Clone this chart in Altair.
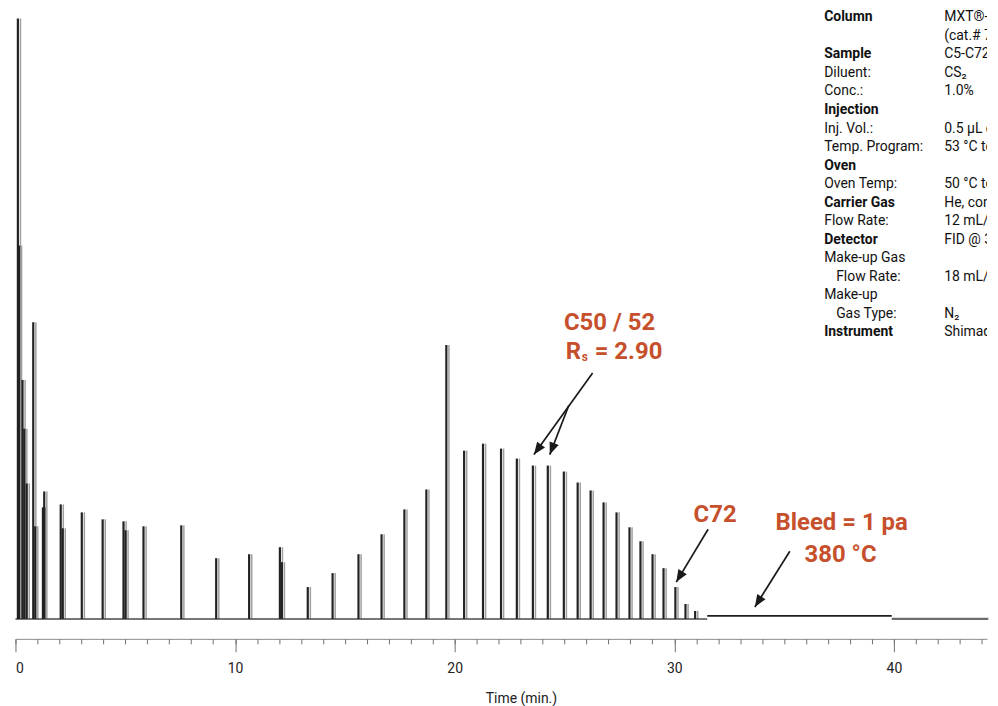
import math
import altair as alt
import pandas as pd

# ---------------- data ----------------
# retention time (min) and peak height (detector units above baseline)
peak_time = [0.11, 0.16, 0.32, 0.40, 0.51, 0.81, 0.90, 1.25, 1.31, 2.06,
             2.15, 3.02, 3.97, 4.92, 5.01, 5.83, 7.55, 9.14, 10.64, 12.04,
             12.13, 13.31, 14.44, 15.62, 16.67, 17.71, 18.71, 19.62, 20.43, 21.29,
             22.11, 22.83, 23.56, 24.24, 24.97, 25.60, 26.19, 26.78, 27.37, 27.96,
             28.46, 29.01, 29.51, 30.05, 30.51, 30.95]
peak_height = [603, 375, 240, 191, 136, 298, 93, 112, 128, 115,
               91, 107, 100, 98, 89, 93, 94, 61, 65, 72,
               57, 32, 46, 65, 85, 110, 130, 275, 169, 176,
               171, 161, 154, 154, 148, 137, 129, 117, 107, 92,
               78, 65, 51, 32, 15, 8]

# baseline segments (run, column bleed at 380 °C, after the run)
base_start = [0.0, 31.5, 39.9]
base_end = [31.5, 39.9, 44.3]
base_level = [0.0, 3.0, 0.0]
base_kind = ["run", "bleed", "post"]

x_ticks_major = [0, 10, 20, 30, 40]
x_ticks_minor = list(range(0, 45))

# annotations
ann_text = ["C50 / 52", "C72", "Bleed = 1 pa", "380 °C"]
ann_time = [27.05, 31.86, 37.62, 37.57]
ann_level = [297, 104, 96, 64]

rs_time = [25.06]
rs_level = [268]

arrow_t0 = [26.28, 25.19, 31.54, 35.26]
arrow_v0 = [247, 214, 90, 68]
arrow_t1 = [23.61, 24.33, 30.09, 33.67]
arrow_v1 = [165, 165, 37, 12]

# conditions panel
info_label = ["Column", "", "Sample", "Diluent:", "Conc.:", "Injection", "Inj. Vol.:",
              "Temp. Program:", "Oven", "Oven Temp:", "Carrier Gas", "Flow Rate:",
              "Detector", "Make-up Gas", "Flow  Rate:", "Make-up",
              "Gas Type:", "Instrument"]
info_bold = [True, False, True, False, False, True, False, False, True, False,
             True, False, True, False, False, False, False, True]
info_indent = [False, False, False, False, False, False, False, False, False, False,
               False, False, False, False, True, False, True, False]
info_value = ["MXT®-1HT Sim Dist", "(cat.# 70112)", "C5-C72 Polywax standard", "CS₂", "1.0%", "",
              "0.5 µL cool on-column", "53 °C to 383 °C", "", "50 °C to 380 °C",
              "He, constant flow", "12 mL/min", "FID @ 390 °C", "", "18 mL/min", "",
              "N₂", "Shimadzu GC-2010"]

# ---------------- layout ----------------
W, H = 975.5, 632
X_DOM = [0, 44.24]
Y_DOM = [-20, 612]
xs = alt.Scale(domain=X_DOM, nice=False, zero=False)
ys = alt.Scale(domain=Y_DOM, nice=False, zero=False)
px_x = W / (X_DOM[1] - X_DOM[0])
px_y = H / (Y_DOM[1] - Y_DOM[0])

ORANGE = "#c6502b"
FONT = "Roboto"

peaks = pd.DataFrame({"time": peak_time, "signal": peak_height,
                      "base": [0.0] * len(peak_time)})
base = pd.DataFrame({"start": base_start, "end": base_end,
                     "level": base_level, "kind": base_kind})

angles = []
for a, b, c, d in zip(arrow_t0, arrow_v0, arrow_t1, arrow_v1):
    dx = (c - a) * px_x
    dy = -(d - b) * px_y
    angles.append(math.degrees(math.atan2(dx, -dy)) % 360)
arrows = pd.DataFrame({"t0": arrow_t0, "v0": arrow_v0, "t1": arrow_t1,
                       "v1": arrow_v1, "angle": angles})
ann = pd.DataFrame({"time": ann_time, "level": ann_level, "label": ann_text})
rs = pd.DataFrame({"time": rs_time, "level": rs_level})

# panel rows: one row per line, positioned on the chart's own y scale
PANEL_TOP = 604.0   # signal level of the first line
LINE_STEP = 18.6 / px_y
panel = pd.DataFrame({
    "label": info_label,
    "bold": info_bold,
    "indent": info_indent,
    "value": info_value,
    "lv": [PANEL_TOP - i * LINE_STEP for i in range(len(info_label))],
})

major_axis = alt.Axis(values=x_ticks_major, orient="bottom", tickSize=13,
                      labelFontSize=14, labelPadding=10, labelFont=FONT,
                      labelColor="#222", domain=True, domainColor="#8c8c8c",
                      tickColor="#707070", grid=False,
                      title="Time (min.)", titleX=507.5, titleY=60,
                      titleAlign="center", titleBaseline="middle",
                      titleFontWeight="normal", titleFontSize=14, titleFont=FONT,
                      titleColor="#222")
minor_axis = alt.Axis(values=x_ticks_minor, orient="bottom", tickSize=5,
                      labels=False, domain=False, grid=False, tickColor="#707070")

gray_peaks = alt.Chart(peaks).mark_rule(color="#a0a0a0", strokeWidth=1.5, xOffset=2.6).encode(
    x=alt.X("time:Q", scale=xs, axis=major_axis),
    y=alt.Y("base:Q", scale=ys, axis=None),
    y2="signal:Q",
)

baseline = alt.Chart(base).mark_rule().encode(
    x=alt.X("start:Q", scale=xs, axis=minor_axis, title=None),
    x2="end:Q",
    y=alt.Y("level:Q", scale=ys, axis=None),
    color=alt.Color("kind:N", scale=alt.Scale(domain=["run", "bleed", "post"],
                                              range=["#4a4a4a", "#1e1e1e", "#6e6e6e"]),
                    legend=None),
    strokeWidth=alt.StrokeWidth("kind:N", scale=alt.Scale(domain=["run", "bleed", "post"],
                                                          range=[1.5, 2.2, 1.4]),
                                legend=None),
)

black_peaks = alt.Chart(peaks).mark_rule(color="#222222", strokeWidth=2.2).encode(
    x=alt.X("time:Q", scale=xs, axis=None),
    y=alt.Y("base:Q", scale=ys, axis=None),
    y2="signal:Q",
)

arrow_lines = alt.Chart(arrows).mark_rule(color="#1a1a1a", strokeWidth=1.7).encode(
    x=alt.X("t0:Q", scale=xs, axis=None),
    y=alt.Y("v0:Q", scale=ys, axis=None),
    x2="t1:Q",
    y2="v1:Q",
)

arrow_heads = alt.Chart(arrows).mark_point(
    shape="M0,0L0.8,2L-0.8,2Z", filled=True, size=150, color="#1a1a1a", opacity=1
).encode(
    x=alt.X("t1:Q", scale=xs, axis=None),
    y=alt.Y("v1:Q", scale=ys, axis=None),
    angle=alt.Angle("angle:Q", scale=None),
)

ann_text_layer = alt.Chart(ann).mark_text(
    font=FONT, fontWeight="bold", fontSize=24, color=ORANGE, baseline="middle", align="center"
).encode(
    x=alt.X("time:Q", scale=xs, axis=None),
    y=alt.Y("level:Q", scale=ys, axis=None),
    text="label:N",
)

rs_R = alt.Chart(rs).mark_text(
    font=FONT, fontWeight="bold", fontSize=24, color=ORANGE, baseline="middle", align="left",
    text="R"
).encode(x=alt.X("time:Q", scale=xs, axis=None), y=alt.Y("level:Q", scale=ys, axis=None))
rs_s = alt.Chart(rs).mark_text(
    font=FONT, fontWeight="bold", fontSize=12, color=ORANGE, baseline="middle", align="left",
    text="s", dx=16, dy=5
).encode(x=alt.X("time:Q", scale=xs, axis=None), y=alt.Y("level:Q", scale=ys, axis=None))
rs_val = alt.Chart(rs).mark_text(
    font=FONT, fontWeight="bold", fontSize=24, color=ORANGE, baseline="middle", align="left",
    text="= 2.90", dx=29
).encode(x=alt.X("time:Q", scale=xs, axis=None), y=alt.Y("level:Q", scale=ys, axis=None))

LABEL_X = 812.0
VALUE_X = 932.5
panel_common = dict(font=FONT, fontSize=14, color="#111", baseline="middle", align="left",
                    clip=True)
panel_bold = alt.Chart(panel).transform_filter("datum.bold && datum.label != ''").mark_text(
    fontWeight="bold", **panel_common).encode(
    x=alt.value(LABEL_X), y=alt.Y("lv:Q", scale=ys, axis=None), text="label:N")
panel_norm = alt.Chart(panel).transform_filter(
    "!datum.bold && !datum.indent && datum.label != ''").mark_text(**panel_common).encode(
    x=alt.value(LABEL_X), y=alt.Y("lv:Q", scale=ys, axis=None), text="label:N")
panel_ind = alt.Chart(panel).transform_filter("datum.indent").mark_text(**panel_common).encode(
    x=alt.value(LABEL_X + 12), y=alt.Y("lv:Q", scale=ys, axis=None), text="label:N")
panel_val = alt.Chart(panel).transform_filter("datum.value != ''").mark_text(
    **panel_common).encode(
    x=alt.value(VALUE_X), y=alt.Y("lv:Q", scale=ys, axis=None), text="value:N")

chart = alt.layer(
    gray_peaks, baseline, black_peaks, arrow_lines, arrow_heads,
    ann_text_layer, rs_R, rs_s, rs_val, panel_bold, panel_norm, panel_ind, panel_val
).resolve_axis(x="independent").properties(
    width=W, height=H,
    padding={"left": 6.5, "top": 0, "right": 0, "bottom": 0},
    background="white",
).configure_view(stroke=None)

chart.save("out.html", embed_options={"renderer": "svg", "actions": False})
